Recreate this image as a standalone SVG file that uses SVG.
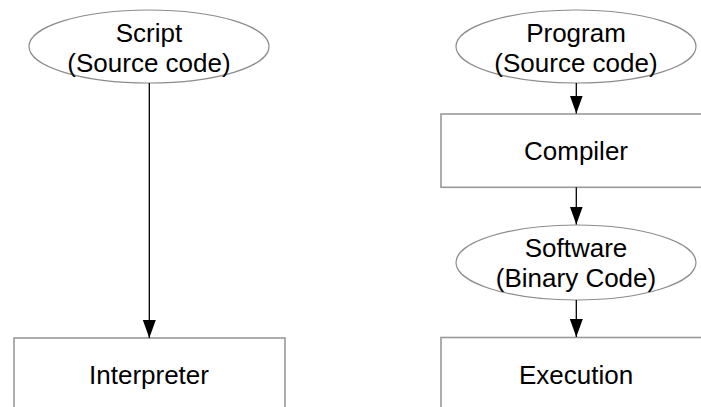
<svg xmlns="http://www.w3.org/2000/svg" width="701" height="407" viewBox="0 0 701 407">
<style>
.ell{fill:#fff;stroke:#8c8c8c;stroke-width:1.2}
.box{fill:#fff;stroke:#999;stroke-width:1.6}
.t{font-family:"Liberation Sans",Arial,sans-serif;font-size:26px;fill:#000;text-anchor:middle}
.c{stroke:#000;stroke-width:1.3;fill:none;marker-end:url(#ah)}
</style>
<defs>
<marker id="ah" markerUnits="userSpaceOnUse" markerWidth="18" markerHeight="13" refX="18" refY="6.5" orient="auto" viewBox="0 0 18 13">
<polygon points="0,0 18,6.5 0,13" fill="#000"/>
</marker>
</defs>
<rect width="701" height="407" fill="#fff"/>
<g id="n-script">
<ellipse class="ell" cx="149" cy="46.5" rx="120" ry="36.5"/>
<text class="t" x="149" y="41.7">Script</text>
<text class="t" x="149" y="71.7">(Source code)</text>
</g>
<g id="n-interpreter">
<rect class="box" x="14" y="338" width="271" height="90"/>
<text class="t" x="149" y="383.5">Interpreter</text>
</g>
<g id="n-program">
<ellipse class="ell" cx="576" cy="46.5" rx="120" ry="36.5"/>
<text class="t" x="576" y="41.7">Program</text>
<text class="t" x="576" y="71.7">(Source code)</text>
</g>
<g id="n-compiler">
<rect class="box" x="441" y="114" width="280" height="73.3"/>
<text class="t" x="576" y="160">Compiler</text>
</g>
<g id="n-software">
<ellipse class="ell" cx="576" cy="262.5" rx="120" ry="37.5"/>
<text class="t" x="576" y="256.7">Software</text>
<text class="t" x="576" y="287.3">(Binary Code)</text>
</g>
<g id="n-execution">
<rect class="box" x="441" y="337.5" width="280" height="90"/>
<text class="t" x="576" y="384">Execution</text>
</g>
<g id="connectors">
<line class="c" x1="149.3" y1="83" x2="149.3" y2="338"/>
<line class="c" x1="576.3" y1="83" x2="576.3" y2="113.5"/>
<line class="c" x1="576.3" y1="187.3" x2="576.3" y2="224.5"/>
<line class="c" x1="576.3" y1="300" x2="576.3" y2="337"/>
</g>
</svg>
